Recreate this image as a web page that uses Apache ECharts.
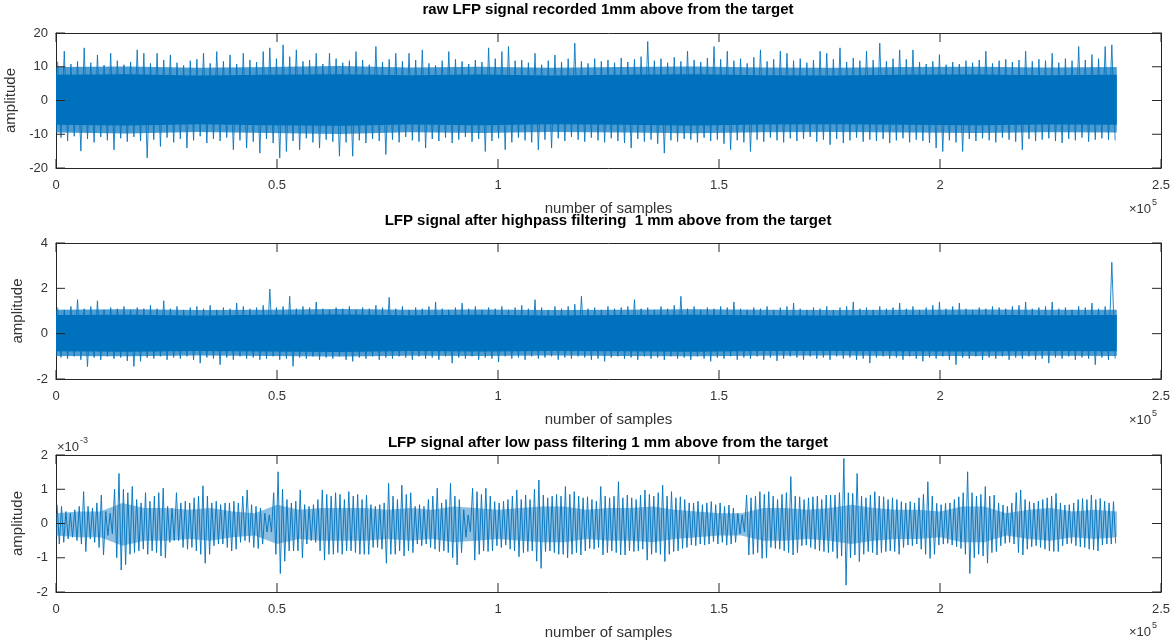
<!DOCTYPE html>
<html>
<head>
<meta charset="utf-8">
<script src="https://cdn.jsdelivr.net/npm/echarts@6/dist/echarts.min.js"></script>
<style>html,body{margin:0;padding:0;background:#fff;}#c{width:1176px;height:640px;}</style>
</head>
<body>
<div id="c"></div>
<script>
// ---------------- DATA ----------------
const titles = [
  'raw LFP signal recorded 1mm above from the target',
  'LFP signal after highpass filtering  1 mm above from the target',
  'LFP signal after low pass filtering 1 mm above from the target'
];
const xName = 'number of samples';
const yName = 'amplitude';
const xTicks = [0, 50000, 100000, 150000, 200000, 250000];
const rawYTicks = [-20, -10, 0, 10, 20];
const hpYTicks = [-2, 0, 2, 4];
const lpYTicksMilli = [-2, -1, 0, 1, 2];

// raw signal: per 1500-sample bin max / min envelope
const rawBin = 1500;
const rawHi = [11.5,14.6,10.8,11.6,15.6,11.2,13.5,10.5,14,11.8,10.6,11.4,15,14,11,14,12,13.5,11.2,10.4,
11.8,12.2,14,11,14.5,11.6,13.5,10.8,14,12,11.4,14.5,15.6,12.4,16.5,13,15,11.6,12,14,
10.8,14,12.4,11.2,11.8,14.5,12,10.6,16,11.4,12.2,14,11.6,14,12,15,11,10.4,11.8,14.5,
12.2,11.6,10.8,12,11.4,15.6,12.4,14.5,16,11.8,12,11.2,14,10.6,11.8,13.5,11.4,12.4,17,11.6,
11,12.4,11.6,12,11.2,12.6,11.4,12.2,13,17.5,11.8,12.4,11.2,12.8,11.6,14.6,12,11.4,12.6,16,
12.2,14.6,11.8,12.4,11,12.8,15,11.6,12.2,14.6,14,11.8,12.4,11.2,12,14.6,14,12.2,15.6,11.4,
12.6,11.8,14.6,12,17,11.6,12.4,15,12.2,15,11.4,10.8,11.6,13.6,10.6,11.4,10.8,11.8,11.2,12,
14.6,11,11.8,12.2,11.4,12,14.6,11.6,12.2,11.8,14,11.2,12.4,11.8,16,12,13.6,12.4,16,16.5];
const rawLo = [-11,-12,-10.6,-15,-11.4,-12.4,-10.8,-11.8,-14.6,-11.2,-12.2,-10.8,-12,-17,-11.6,-13.6,-11,-12.4,-11.4,-14.1,
-11.8,-10.6,-12.6,-11.4,-12,-11,-14.6,-11.8,-14.1,-12.2,-15.6,-11.4,-12.6,-17,-15.1,-12,-14.6,-11.2,-12.4,-14.1,
-11.6,-12.2,-16.5,-12.4,-16.5,-11.8,-12.6,-11.4,-12,-16,-11.6,-12.4,-10.8,-11.8,-12.2,-14.1,-11.4,-12,-11,-12.6,
-11.6,-10.8,-12.2,-11.4,-15.1,-12,-11.2,-14.6,-12.4,-11,-11.8,-12.4,-14.6,-11.6,-14.1,-11.2,-12,-10.8,-11.6,-12.2,
-11,-11.8,-12.4,-11.2,-12,-12.6,-14.1,-11.4,-12.2,-11.6,-12.8,-15.6,-11.8,-12.2,-11.4,-11.6,-12.4,-11,-12,-11.6,
-12.8,-14.6,-11.8,-12.4,-15.1,-11.6,-12.2,-11,-11.8,-12.4,-11.2,-12,-11.4,-10.8,-12.2,-11.6,-13.1,-11.4,-12.6,-11.8,
-11,-12.2,-11.6,-12,-11.4,-12.6,-11.8,-11.2,-12.4,-11.6,-12,-12.6,-14.1,-15.1,-11.8,-12.4,-15.1,-11.4,-12,-11.2,
-11.8,-12.4,-11,-11.6,-12.2,-14.6,-11.4,-12,-11.6,-11.2,-12,-12.6,-11.4,-11.8,-11,-12.2,-11.6,-11.2,-11.6,-11.8];
// dense core / fuzzy edge of the raw signal, every 16000 samples
const coreStep = 16000;
const rawCoreHi = [7.6,7.8,7.4,7.6,7.8,7.5,7.7,7.4,7.6,7.8,7.5,7.4,7.6,7.7,7.5,7.6];
const rawCoreLo = [-7.2,-7.4,-7.0,-7.3,-7.5,-7.1,-7.3,-7.0,-7.2,-7.4,-7.1,-7.0,-7.2,-7.3,-7.1,-7.2];
const rawFuzzHi = [9.9,10.1,9.7,9.9,10.2,9.8,10.0,9.7,9.9,10.1,9.8,9.7,9.9,10.0,9.8,9.9];
const rawFuzzLo = [-9.5,-9.8,-9.3,-9.6,-9.9,-9.4,-9.6,-9.3,-9.5,-9.7,-9.4,-9.3,-9.5,-9.6,-9.4,-9.5];

// highpass signal
const hpBin = 1500;
const hpHi = [1.15,1.05,1.2,1.5,1.1,1.2,1.45,1.05,1.15,1.1,1.2,1.05,1.15,1.1,1.25,1.1,1.45,1.1,1.2,1.05,
1.15,1.2,1.1,1.25,1.05,1.15,1.1,1.35,1.2,1.1,1.15,1.25,1.97,1.15,1.2,1.65,1.1,1.2,1.15,1.4,
1.1,1.05,1.15,1.1,1.2,1.05,1.15,1.1,1.25,1.15,1.6,1.1,1.2,1.05,1.15,1.1,1.2,1.4,1.1,1.05,
1.15,1.35,1.1,1.2,1.05,1.15,1.1,1.2,1.05,1.15,1.25,1.1,1.5,1.15,1.05,1.2,1.1,1.2,1.3,1.65,
1.1,1.15,1.05,1.2,1.1,1.15,1.2,1.5,1.1,1.15,1.05,1.2,1.1,1.25,1.65,1.1,1.2,1.05,1.15,1.1,
1.2,1.15,1.4,1.1,1.05,1.15,1.1,1.2,1.05,1.15,1.2,1.35,1.1,1.05,1.15,1.1,1.2,1.05,1.15,1.2,
1.4,1.1,1.15,1.05,1.2,1.1,1.15,1.35,1.1,1.2,1.05,1.15,1.25,1.4,1.1,1.2,1.35,1.1,1.05,1.15,
1.1,1.2,1.15,1.1,1.2,1.25,1.4,1.1,1.15,1.2,1.4,1.1,1.15,1.05,1.2,1.15,1.35,1.1,1.2,3.15];
const hpLo = [-1.05,-1.1,-1.0,-1.15,-1.45,-1.05,-1.15,-1.0,-1.1,-1.05,-1.2,-1.45,-1.22,-1.05,-1.1,-1.0,-1.15,-1.05,-1.1,-1.0,
-1.15,-1.3,-1.05,-1.1,-1.37,-1.05,-1.15,-1.0,-1.1,-1.05,-1.15,-1.1,-1.0,-1.15,-1.1,-1.44,-1.05,-1.1,-1.0,-1.15,
-1.05,-1.1,-1.0,-1.15,-1.22,-1.05,-1.1,-1.0,-1.15,-1.05,-1.1,-1.0,-1.05,-1.15,-1.0,-1.1,-1.05,-1.15,-1.0,-1.3,
-1.05,-1.1,-1.0,-1.15,-1.05,-1.1,-1.25,-1.0,-1.1,-1.05,-1.15,-1.0,-1.1,-1.05,-1.0,-1.15,-1.05,-1.1,-1.0,-1.05,
-1.15,-1.1,-1.22,-1.05,-1.0,-1.1,-1.05,-1.15,-1.0,-1.1,-1.05,-1.15,-1.0,-1.1,-1.05,-1.15,-1.0,-1.1,-1.22,-1.05,
-1.1,-1.0,-1.15,-1.05,-1.1,-1.0,-1.15,-1.05,-1.2,-1.1,-1.0,-1.05,-1.15,-1.0,-1.1,-1.05,-1.15,-1.0,-1.1,-1.05,
-1.15,-1.1,-1.3,-1.05,-1.0,-1.1,-1.05,-1.15,-1.0,-1.1,-1.22,-1.05,-1.1,-1.0,-1.15,-1.37,-1.05,-1.1,-1.0,-1.15,
-1.05,-1.1,-1.0,-1.15,-1.05,-1.1,-1.0,-1.15,-1.1,-1.3,-1.05,-1.1,-1.0,-1.15,-1.05,-1.1,-1.37,-1.05,-1.15,-1.1];
const hpCoreHi = [0.82,0.84,0.8,0.83,0.85,0.81,0.83,0.8,0.82,0.84,0.81,0.8,0.82,0.83,0.81,0.82];
const hpCoreLo = [-0.78,-0.8,-0.76,-0.79,-0.81,-0.77,-0.79,-0.76,-0.78,-0.8,-0.77,-0.76,-0.78,-0.79,-0.77,-0.78];
const hpFuzzHi = [1.06,1.08,1.04,1.06,1.09,1.05,1.07,1.04,1.06,1.08,1.05,1.04,1.06,1.07,1.05,1.06];
const hpFuzzLo = [-0.98,-1.0,-0.96,-0.98,-1.01,-0.97,-0.99,-0.96,-0.98,-1.0,-0.97,-0.96,-0.98,-0.99,-0.97,-0.98];

// lowpass signal, in units of 1e-3, per 1000-sample bin
const lpBin = 1000;
const lpHiMilli = [.55,.5,.35,.3,.4,.5,.93,.5,.45,.6,.83,.35,.3,1.0,1.46,1.0,.9,1.08,.7,.6,
.9,.65,.8,.9,1.03,.5,.45,.9,.6,.65,.6,.75,.8,1.1,.8,.6,.65,.55,.6,.6,
.65,.6,.8,.98,.55,.5,.45,.3,.25,.9,1.51,1.0,.7,.6,.65,.98,.55,.5,.55,.7,
.98,.85,.8,.9,.85,.7,.93,.8,.85,.7,.83,.55,.5,.55,.6,1.17,.8,.7,1.12,.85,
.9,.5,.55,.5,.7,.8,1.03,.6,.7,1.17,.8,.7,.4,.25,1.03,.93,.85,1.03,.8,.64,
.6,.65,.7,.8,.98,.7,.83,.7,1.0,1.27,.83,.75,.8,.85,.8,1.08,.85,.93,.8,.75,
.78,.7,.65,1.08,.8,.75,.8,1.22,.75,.83,.75,.7,.83,.98,.85,.8,.9,1.12,.8,.93,
.75,.78,.7,.6,.6,.65,.55,.6,.64,.55,.6,.5,.54,.45,.3,.25,.83,.75,.8,.93,
.85,.93,.8,.7,.85,.9,1.37,.8,.78,.7,.75,.78,.8,.7,.83,.83,.83,.9,1.9,.9,
.88,1.46,.8,.75,.83,.93,.8,.78,.7,.75,.7,.64,.6,.64,.6,.75,.85,1.22,.8,.59,
.55,.59,.6,.7,.78,.9,1.51,.9,.8,.85,1.08,.8,.83,.6,.54,.5,.6,.9,.98,.7,
.64,.6,.65,.7,.75,.8,.88,.6,.54,.55,.6,.7,.73,.7,.83,.7,.73,.65,.6,.64];
const lpLoMilli = [-.6,-.55,-.45,-.4,-.5,-.6,-.82,-.45,-.55,-.7,-.92,-.35,-.3,-1.0,-1.36,-1.2,-.9,-.85,-.8,-.75,
-.9,-.8,-.85,-.95,-1.0,-.55,-.5,-.5,-.7,-.75,-.7,-.8,-.9,-1.16,-.9,-.65,-.6,-.6,-.7,-.8,
-.75,-.55,-.5,-.55,-.7,-.73,-.6,-.25,-.25,-.9,-1.46,-1.1,-.8,-.8,-.8,-1.0,-.6,-.5,-.55,-.8,
-1.07,-.9,-.9,-.85,-.9,-.8,-.8,-.85,-.9,-.9,-.9,-.7,-.7,-.75,-1.16,-.9,-.9,-.8,-.95,-.8,
-.85,-.6,-.65,-.6,-.7,-.75,-.82,-.8,-.85,-1.0,-1.21,-.85,-.4,-.24,-1.07,-.9,-.8,-.82,-.8,-.65,
-.7,-.63,-.75,-.8,-.97,-.85,-.82,-.8,-1.1,-1.31,-.82,-.8,-.85,-.9,-.9,-1.0,-.9,-.85,-.92,-.8,
-.73,-.75,-.7,-.92,-.85,-.8,-.85,-.92,-.92,-.8,-.82,-.8,-.75,-1.07,-.9,-.85,-.9,-1.11,-.9,-.82,
-.8,-.73,-.7,-.63,-.65,-.6,-.63,-.6,-.53,-.6,-.55,-.63,-.6,-.55,-.3,-.25,-.92,-.9,-.85,-1.02,
-1.0,-.7,-.73,-.75,-.8,-.85,-.92,-.85,-.65,-.63,-.7,-.75,-.8,-.82,-.85,-.82,-1.02,-.95,-1.8,-1.0,
-.92,-1.11,-.9,-.82,-.85,-.92,-.85,-.82,-.8,-.82,-.9,-.7,-.63,-.65,-.6,-.75,-.9,-1.02,-.9,-.63,
-.6,-.58,-.63,-.68,-.73,-.9,-1.46,-1.0,-.9,-.95,-1.16,-.85,-.82,-.65,-.58,-.55,-.6,-.85,-.92,-.75,
-.68,-.65,-.7,-.75,-.8,-.82,-.82,-.65,-.6,-.58,-.65,-.68,-.7,-.75,-.77,-.8,-.63,-.6,-.6,-.58];
// dense core of the lowpass signal (1e-3 units), every 5000 samples
const lpCoreStep = 5000;
const lpCoreHiMilli = [.3,.35,.35,.6,.45,.45,.4,.45,.35,.3,.55,.4,.45,.45,.45,.4,.45,.4,.5,.45,
.4,.45,.5,.5,.4,.45,.45,.5,.4,.35,.3,.3,.45,.45,.4,.45,.55,.45,.4,.4,
.35,.5,.5,.3,.4,.45,.35,.4,.35];
const lpCoreLoMilli = [-.35,-.4,-.4,-.65,-.5,-.5,-.45,-.5,-.4,-.35,-.6,-.45,-.5,-.5,-.5,-.45,-.5,-.45,-.55,-.5,
-.45,-.5,-.55,-.55,-.45,-.5,-.5,-.55,-.45,-.4,-.35,-.35,-.5,-.5,-.45,-.5,-.6,-.5,-.45,-.45,
-.4,-.55,-.55,-.35,-.45,-.5,-.4,-.45,-.4];

// ---------------- CHART ----------------
const BLUE = '#0072BD';
const FONT = '"Liberation Sans", Arial, Helvetica, sans-serif';
const AX = '#262626';
const TXT = '#333333';
const TICK_LEN = 9;

function zig(hi, lo, bin) {
  const d = [];
  for (let i = 0; i < hi.length; i++) {
    d.push([i * bin + bin * 0.25, hi[i]]);
    d.push([i * bin + bin * 0.75, lo[i]]);
  }
  return d;
}

const grids = [
  {left: 56, top: 33, width: 1105, height: 135},
  {left: 56, top: 243, width: 1105, height: 136},
  {left: 56, top: 455, width: 1105, height: 137}
];
const yTickSets = [rawYTicks, hpYTicks, lpYTicksMilli];
const titleTops = [2, 213, 435];
const xMin = xTicks[0], xMax = xTicks[xTicks.length - 1];

const xAxes = [], yAxes = [];
grids.forEach((g, k) => {
  g.show = false; g.containLabel = false; g.outerBoundsMode = 'none';
  const yt = yTickSets[k];
  const yr = {min: yt[0], max: yt[yt.length - 1], interval: yt[1] - yt[0]};
  const line = {show: true, onZero: false, lineStyle: {color: AX, width: 1}};
  const noTick = {show: false};
  xAxes.push({
    type: 'value', gridIndex: k, position: 'bottom', min: xMin, max: xMax, interval: xTicks[1] - xTicks[0],
    axisLine: line, splitLine: {show: false}, axisTick: noTick,
    axisLabel: {show: true, margin: 11, color: TXT, fontSize: 13, fontFamily: FONT, formatter: v => String(v / 100000)},
    name: xName, nameLocation: 'middle', nameGap: 33,
    nameTextStyle: {color: TXT, fontSize: 15, fontFamily: FONT}
  });
  xAxes.push({
    type: 'value', gridIndex: k, position: 'top', min: xMin, max: xMax, interval: xTicks[1] - xTicks[0],
    axisLine: line, splitLine: {show: false}, axisTick: noTick, axisLabel: {show: false}
  });
  yAxes.push(Object.assign({
    type: 'value', gridIndex: k, position: 'left',
    axisLine: line, splitLine: {show: false}, axisTick: noTick,
    axisLabel: {show: true, margin: 8, color: TXT, fontSize: 13, fontFamily: FONT},
    name: yName, nameLocation: 'middle', nameGap: 29, nameRotate: 90,
    nameTextStyle: {color: TXT, fontSize: 15, fontFamily: FONT}
  }, yr));
  yAxes.push(Object.assign({
    type: 'value', gridIndex: k, position: 'right',
    axisLine: line, splitLine: {show: false}, axisTick: noTick, axisLabel: {show: false}
  }, yr));
});

// filled band between lo and hi arrays, drawn as one polygon through the axis scales
function band(k, lo, hi, step, opacity) {
  return {
    type: 'custom', xAxisIndex: 2 * k, yAxisIndex: 2 * k, silent: true, animation: false, z: 2,
    data: lo.map((v, i) => [i * step, v, hi[i]]),
    encode: {x: 0, y: [1, 2]},
    renderItem: function (params, api) {
      if (params.dataIndex !== 0) return null;
      const top = hi.map((v, i) => api.coord([i * step, v]));
      const bot = lo.map((v, i) => api.coord([i * step, v])).reverse();
      return {type: 'polygon', shape: {points: top.concat(bot)}, style: {fill: BLUE, opacity: opacity}};
    }
  };
}
function zigSeries(k, data, width, opacity) {
  return {type: 'line', xAxisIndex: 2 * k, yAxisIndex: 2 * k, data: data, showSymbol: false, symbol: 'none',
    sampling: 'none', lineStyle: {width: width, color: BLUE, opacity: opacity}, silent: true, animation: false, z: 3};
}
// inward tick marks on all four sides (MATLAB box style), as short line series on the axes
function tickSeries(k) {
  const g = grids[k], yt = yTickSets[k];
  const yMin = yt[0], yMax = yt[yt.length - 1];
  const dy = TICK_LEN / g.height * (yMax - yMin);
  const dx = TICK_LEN / g.width * (xMax - xMin);
  const segs = [];
  xTicks.forEach(v => {
    segs.push([[v, yMin], [v, yMin + dy]]);
    segs.push([[v, yMax], [v, yMax - dy]]);
  });
  yt.forEach(v => {
    segs.push([[xMin, v], [xMin + dx, v]]);
    segs.push([[xMax, v], [xMax - dx, v]]);
  });
  return segs.map(s => ({type: 'line', xAxisIndex: 2 * k, yAxisIndex: 2 * k, data: s, showSymbol: false,
    symbol: 'none', clip: false, lineStyle: {width: 1, color: AX}, silent: true, animation: false, z: 10}));
}

const series = [].concat(
  [band(0, rawFuzzLo, rawFuzzHi, coreStep, 0.7),
   band(0, rawCoreLo, rawCoreHi, coreStep, 1),
   zigSeries(0, zig(rawHi, rawLo, rawBin), 1, 0.85),
   band(1, hpFuzzLo, hpFuzzHi, coreStep, 0.7),
   band(1, hpCoreLo, hpCoreHi, coreStep, 1),
   zigSeries(1, zig(hpHi, hpLo, hpBin), 1, 0.85),
   band(2, lpCoreLoMilli, lpCoreHiMilli, lpCoreStep, 0.45),
   zigSeries(2, zig(lpHiMilli, lpLoMilli, lpBin), 1, 0.9)],
  tickSeries(0), tickSeries(1), tickSeries(2)
);

const title = titles.map((t, k) => ({
  text: t, left: 608, top: titleTops[k], textAlign: 'center', padding: 0,
  textStyle: {fontSize: 15, fontWeight: 'bold', color: '#000', fontFamily: FONT}
}));

const expY = [210, 421, 633];
const graphic = [];
expY.forEach(y => {
  graphic.push({type: 'text', left: 1129, top: y - 7, style: {text: '\u00d710', fontSize: 13, fill: TXT, fontFamily: FONT}});
  graphic.push({type: 'text', left: 1152, top: y - 12, style: {text: '5', fontSize: 9, fill: TXT, fontFamily: FONT}});
});
graphic.push({type: 'text', left: 57, top: 441, style: {text: '\u00d710', fontSize: 13, fill: TXT, fontFamily: FONT}});
graphic.push({type: 'text', left: 80, top: 436, style: {text: '-3', fontSize: 9, fill: TXT, fontFamily: FONT}});

const chart = echarts.init(document.getElementById('c'), null, {renderer: 'canvas'});
chart.setOption({
  backgroundColor: '#fff',
  animation: false,
  title: title,
  grid: grids,
  xAxis: xAxes,
  yAxis: yAxes,
  series: series,
  graphic: graphic
});
</script>
</body>
</html>
